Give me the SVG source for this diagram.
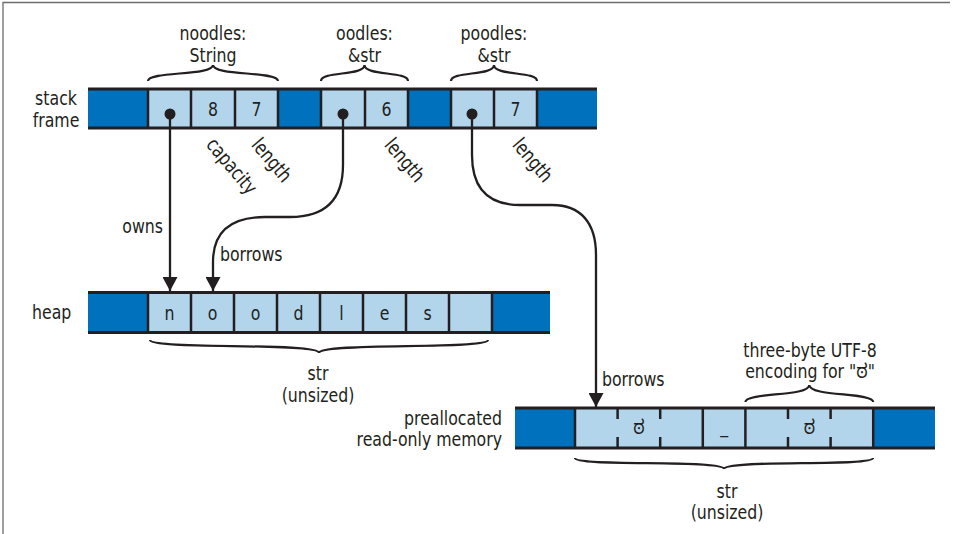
<svg xmlns="http://www.w3.org/2000/svg" width="957" height="534" viewBox="0 0 957 534">
<defs>
<style>
.t{font-family:"DejaVu Sans Condensed","DejaVu Sans","Noto Sans Kannada","Noto Sans",sans-serif;font-stretch:condensed;font-size:20px;fill:#231f20}
.m{text-anchor:middle}
.e{text-anchor:end}
.dark{fill:#0071bc}
.light{fill:#b3d5eb}
.rule{stroke:#231f20;stroke-width:3}
.div{stroke:#231f20;stroke-width:2.5}
.brace{fill:none;stroke:#231f20;stroke-width:2.2}
.conn{fill:none;stroke:#231f20;stroke-width:2.3}
.dot{fill:#231f20}
</style>
<marker id="arrow" viewBox="0 0 14 15" refX="14" refY="7.5" markerWidth="14" markerHeight="15" markerUnits="userSpaceOnUse" orient="auto">
<path d="M0,0 L14,7.5 L0,15 Z" fill="#231f20"/>
</marker>
</defs>
<rect width="957" height="534" fill="#ffffff"/>
<path d="M3,534 V2.5 H950" fill="none" stroke="#6d6d6d" stroke-width="1.3"/>

<g id="stack-frame">
<text class="t m" transform="translate(56,105) scale(0.875,1)">stack</text>
<text class="t m" transform="translate(56,127) scale(0.875,1)">frame</text>
<rect class="dark" x="88" y="89" width="509" height="39"/>
<rect class="light" x="148" y="89" width="130" height="39"/>
<rect class="light" x="321" y="89" width="87" height="39"/>
<rect class="light" x="451" y="89" width="86" height="39"/>
<line class="rule" x1="88" y1="89" x2="597" y2="89"/>
<line class="rule" x1="88" y1="128" x2="597" y2="128"/>
<path class="div" d="M148,89V128M191,89V128M235,89V128M278,89V128M321,89V128M365,89V128M408,89V128M451,89V128M494,89V128M537,89V128"/>
<text class="t m" transform="translate(213,116) scale(0.875,1)">8</text>
<text class="t m" transform="translate(256.5,116) scale(0.875,1)">7</text>
<text class="t m" transform="translate(386.5,116) scale(0.875,1)">6</text>
<text class="t m" transform="translate(515.5,116) scale(0.875,1)">7</text>
<circle class="dot" cx="170" cy="114" r="5.5"/>
<circle class="dot" cx="343" cy="114" r="5.5"/>
<circle class="dot" cx="472" cy="114" r="5.5"/>
</g>

<g id="noodles">
<text class="t m" transform="translate(213,40) scale(0.875,1)">noodles:</text>
<text class="t m" transform="translate(213,62) scale(0.875,1)">String</text>
<path class="brace" d="M148,81 C148,71 213,76 213,65 C213,76 278,71 278,81"/>
<text class="t m" transform="translate(232,166) rotate(50) scale(0.875,1)" dy="0.35em">capacity</text>
<text class="t m" transform="translate(272,160) rotate(50) scale(0.875,1)" dy="0.35em">length</text>
</g>

<g id="oodles">
<text class="t m" transform="translate(364.5,40) scale(0.875,1)">oodles:</text>
<text class="t m" transform="translate(364.5,62) scale(0.875,1)">&amp;str</text>
<path class="brace" d="M321,81 C321,71 364.5,76 364.5,65 C364.5,76 408,71 408,81"/>
<text class="t m" transform="translate(405,160) rotate(50) scale(0.875,1)" dy="0.35em">length</text>
</g>

<g id="poodles">
<text class="t m" transform="translate(494,40) scale(0.875,1)">poodles:</text>
<text class="t m" transform="translate(494,62) scale(0.875,1)">&amp;str</text>
<path class="brace" d="M451,81 C451,71 494,76 494,65 C494,76 537,71 537,81"/>
<text class="t m" transform="translate(533,160) rotate(50) scale(0.875,1)" dy="0.35em">length</text>
</g>

<g id="heap">
<text class="t" transform="translate(32,319) scale(0.875,1)">heap</text>
<rect class="dark" x="88" y="292.5" width="462" height="40"/>
<rect class="light" x="148" y="292.5" width="344" height="40"/>
<line class="rule" x1="88" y1="292.5" x2="550" y2="292.5"/>
<line class="rule" x1="88" y1="332.5" x2="550" y2="332.5"/>
<path class="div" d="M148,292V333M191,292V333M234,292V333M277,292V333M320,292V333M363,292V333M406,292V333M449,292V333M492,292V333"/>
<text class="t m" transform="translate(169.5,320) scale(0.875,1)">n</text>
<text class="t m" transform="translate(212.5,320) scale(0.875,1)">o</text>
<text class="t m" transform="translate(255.5,320) scale(0.875,1)">o</text>
<text class="t m" transform="translate(298.5,320) scale(0.875,1)">d</text>
<text class="t m" transform="translate(341.5,320) scale(0.875,1)">l</text>
<text class="t m" transform="translate(384.5,320) scale(0.875,1)">e</text>
<text class="t m" transform="translate(427.5,320) scale(0.875,1)">s</text>
<path class="brace" d="M150,340 C150,350 319,342 319,353 C319,342 488,350 488,340"/>
<text class="t m" transform="translate(318,380) scale(0.875,1)">str</text>
<text class="t m" transform="translate(318,402) scale(0.875,1)">(unsized)</text>
</g>

<g id="readonly">
<text class="t e" transform="translate(502,425) scale(0.875,1)">preallocated</text>
<text class="t e" transform="translate(502,446) scale(0.875,1)">read-only memory</text>
<rect class="dark" x="515" y="408" width="420" height="40"/>
<rect class="light" x="575" y="408" width="298.2" height="40"/>
<line class="rule" x1="515" y1="408" x2="935" y2="408"/>
<line class="rule" x1="515" y1="448" x2="935" y2="448"/>
<path class="div" d="M575,408V448M702.8,408V448M745.4,408V448M873.2,408V448M617.6,408V419M617.6,437V448M660.2,408V419M660.2,437V448M788,408V419M788,437V448M830.6,408V419M830.6,437V448"/>
<text class="t m" transform="translate(638.9,434) scale(0.875,1)">ಠ</text>
<text class="t m" transform="translate(724.1,433) scale(0.875,1)">_</text>
<text class="t m" transform="translate(809.4,434) scale(0.875,1)">ಠ</text>
<path class="brace" d="M745.4,402 C745.4,392 809.3,397 809.3,385 C809.3,397 873.2,392 873.2,402"/>
<text class="t m" transform="translate(810,357) scale(0.875,1)">three-byte UTF-8</text>
<text class="t m" transform="translate(810,378) scale(0.875,1)">encoding for "ಠ"</text>
<path class="brace" d="M575,458 C575,467 724,459 724,469 C724,459 873,467 873,458"/>
<text class="t m" transform="translate(727,498) scale(0.875,1)">str</text>
<text class="t m" transform="translate(727,519) scale(0.875,1)">(unsized)</text>
</g>

<g id="connectors">
<path class="conn" d="M170,114 V291" marker-end="url(#arrow)"/>
<path class="conn" d="M343,114 V165 C343,200 325,217 290,217 H265 C230,217 213,232 213,262 V291" marker-end="url(#arrow)"/>
<path class="conn" d="M472,114 V155 C472,190 490,205 520,205 H552 C580,205 596,222 596,255 V407" marker-end="url(#arrow)"/>
<text class="t e" transform="translate(163,233) scale(0.875,1)">owns</text>
<text class="t" transform="translate(220,261) scale(0.875,1)">borrows</text>
<text class="t" transform="translate(602,386) scale(0.875,1)">borrows</text>
</g>
</svg>
